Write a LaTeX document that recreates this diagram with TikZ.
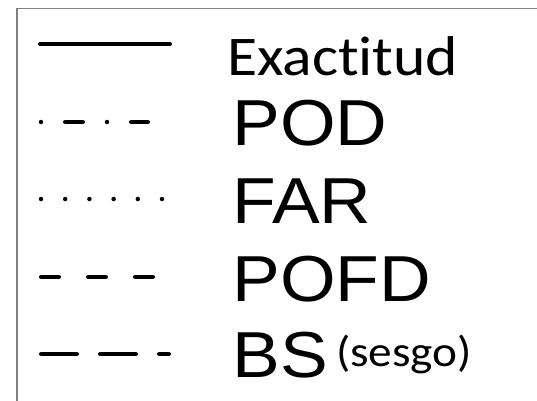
\documentclass[tikz,border=0pt]{standalone}
\usepackage{fontspec}
\newfontfamily\calfont[Ligatures={NoCommon,NoRare,NoDiscretionary,NoContextual}]{Carlito}
\newfontfamily\arifont{Liberation Sans}
\begin{document}
\begin{tikzpicture}[x=1pt,y=-1pt,
  lbl/.style={anchor=base west,inner sep=0pt,outer sep=0pt,xscale=1.1},
  bigar/.style={lbl,font=\arifont\fontsize{65}{65}\selectfont},
  bigcal/.style={lbl,font=\calfont\fontsize{56}{56}\selectfont},
  smallcal/.style={lbl,font=\calfont\fontsize{43}{43}\selectfont},
  leg/.style={line width=4.5pt,line cap=round,black}]
\useasboundingbox (0,0) rectangle (537,400);
\clip (0,0) rectangle (537,400);
\draw[line width=1.5pt,color=black!50] (17,420) -- (17,8.5) -- (560,8.5);
% legend samples
\draw[leg] (40.25,44) -- (169.75,44);
\draw[leg,dash pattern=on 0pt off 24.25pt on 17.5pt off 24.25pt] (41,122) -- (147.75,122);
\draw[leg,dash pattern=on 0pt off 24.2pt] (41,199) -- (162.2,199);
\draw[leg,dash pattern=on 17.5pt off 29.5pt] (41.25,277) -- (153.75,277);
\draw[leg,dash pattern=on 35.5pt off 23.5pt] (41.25,354) -- (168.75,354);
% labels
\node[bigcal] (exa) at (227,75) {Exactitud};
\node[bigar] (pod) at (232.5,145) {POD};
\node[bigar] (far) at (232.5,223) {FAR};
\node[bigar] (pofd) at (232.5,301) {POFD};
\node[bigar] (bs) at (232.5,377) {BS};
\node[smallcal] (ses) at (336,366) {(sesgo)};
\end{tikzpicture}
\end{document}
